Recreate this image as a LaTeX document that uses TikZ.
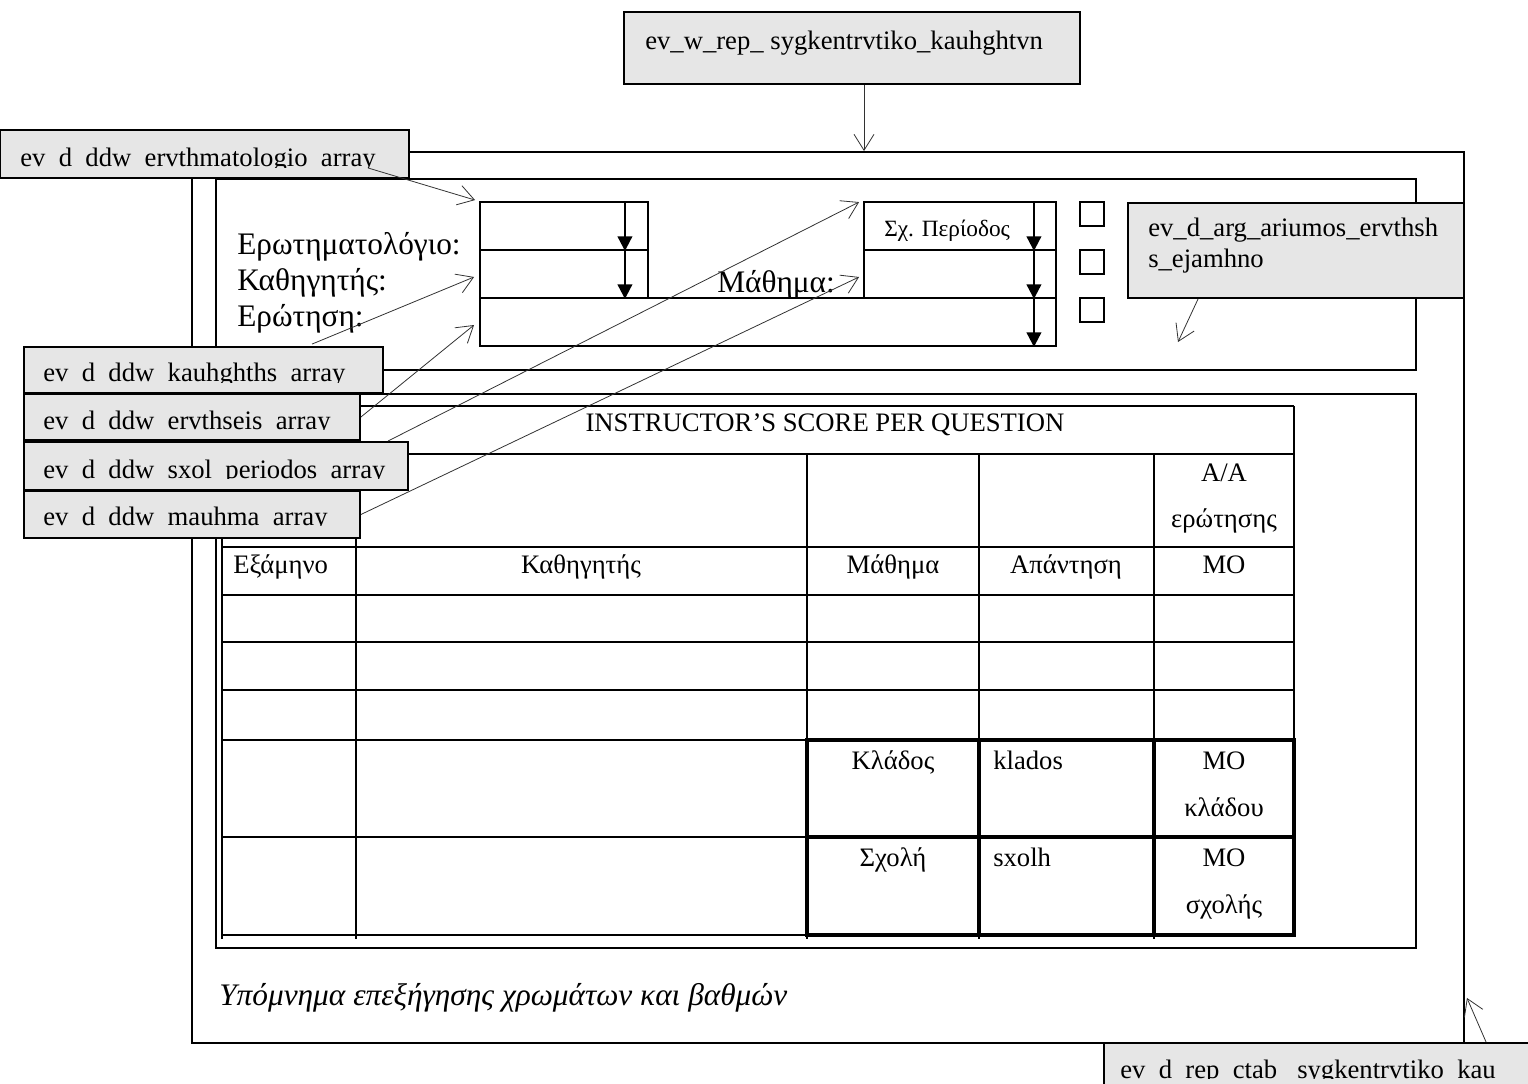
\documentclass[tikz,border=0pt]{standalone}
\usepackage{fontspec}
\setmainfont{Liberation Serif}
\usetikzlibrary{arrows.meta,calc,fit}
\definecolor{boxgray}{RGB}{230,230,230}
\definecolor{conngray}{RGB}{50,50,50}
\tikzset{
  panelbox/.style={draw=black, line width=1.4pt, inner sep=0pt},
  graybox/.style={draw=black, fill=boxgray, line width=1.4pt, inner sep=0pt},
  fieldbox/.style={draw=black, line width=1.4pt, inner sep=0pt},
  chkbox/.style={draw=black, line width=1.2pt, inner sep=0pt},
  lbl/.style={font=\fontsize{20}{24}\selectfont, inner sep=0pt},
  formlbl/.style={font=\fontsize{23.5}{28}\selectfont, inner sep=0pt, anchor=base west},
  smalllbl/.style={font=\fontsize{17.5}{21}\selectfont, inner sep=0pt, anchor=base west},
  conn/.style={draw=conngray, line width=0.6pt, -{Straight Barb[length=12pt,width=15pt]}},
  ddarrow/.style={line width=1.6pt, -{Triangle[length=11pt,width=11pt]}},
  gridline/.style={line width=1.4pt},
  thickgrid/.style={line width=3.4pt},
}
\begin{document}
\begin{tikzpicture}[x=0.75pt,y=-0.75pt]
\useasboundingbox (0,0) rectangle (1528,1084);
\clip (0,0) rectangle (1528,1084);

% ---- top box
\node[graybox, fit={(624,12) (1080,84)}] (topbox) {};
\node[lbl, anchor=base west] (ttop) at (645,50) {ev\_w\_rep\_ sygkentrvtiko\_kauhghtvn};

% ---- frames
\node[panelbox, fit={(192,152) (1464,1043)}] (frame) {};
\node[panelbox, fit={(216,179) (1416,370)}] (formpanel) {};
\node[panelbox, fit={(216,394) (1416,948)}] (tabpanel) {};

% ---- form
\node[formlbl] (lQ) at (237,255) {Ερωτηματολόγιο:};
\node[formlbl] (lK) at (237,291) {Καθηγητής:};
\node[formlbl] (lE) at (237,327) {Ερώτηση:};
\node[formlbl] (lM) at (717,293) {Μάθημα:};

\node[fieldbox, fit={(480,202) (648,250)}] (fQ) {};
\node[fieldbox, fit={(480,250) (648,298)}] (fK) {};
\node[fieldbox, fit={(480,298) (1056,346)}] (fE) {};
\node[fieldbox, fit={(864,202) (1056,250)}] (fS) {};
\node[fieldbox, fit={(864,250) (1056,298)}] (fM) {};
\node[smalllbl] (tS) at (884,237) {Σχ. Περίοδος};

\draw[ddarrow] ($(fQ.north east)+(-24,0)$) -- ($(fQ.south east)+(-24,0)$);
\draw[ddarrow] ($(fK.north east)+(-24,0)$) -- ($(fK.south east)+(-24,0)$);
\draw[ddarrow] ($(fS.north east)+(-23,0)$) -- ($(fS.south east)+(-23,0)$);
\draw[ddarrow] ($(fM.north east)+(-23,0)$) -- ($(fM.south east)+(-23,0)$);
\draw[ddarrow] ($(fE.north east)+(-23,0)$) -- ($(fE.south east)+(-23,0)$);

\node[chkbox, fit={(1080,202) (1104,226)}] (c1) {};
\node[chkbox, fit={(1080,250) (1104,274)}] (c2) {};
\node[chkbox, fit={(1080,298) (1104,322)}] (c3) {};

% ---- table grid
\foreach \yy in {406,454,547,595,642,690,740,837,935}
  \draw[gridline] (222,\yy) -- (1294,\yy);
\draw[gridline] (222,406) -- (222,939);
\draw[gridline] (1294,406) -- (1294,935);
\foreach \xx in {356,807,979,1154}
  \draw[gridline] (\xx,454) -- (\xx,939);
\draw[thickgrid] (807,740) rectangle (1294,935);
\draw[thickgrid] (979,740) -- (979,935);
\draw[thickgrid] (1154,740) -- (1154,935);
\draw[thickgrid] (807,837) -- (1294,837);

% ---- table texts
\node[lbl, anchor=base] (hdr) at (825,431) {INSTRUCTOR’S SCORE PER QUESTION};
\node[lbl, anchor=base] (aa) at (1224,481) {A/A};
\node[lbl, anchor=base] (aa2) at (1224,527) {ερώτησης};
\node[lbl, anchor=base west] (hSem) at (233,573) {Εξάμηνο};
\node[lbl, anchor=base] (hKat) at (581,573) {Καθηγητής};
\node[lbl, anchor=base] (hMat) at (893,573) {Μάθημα};
\node[lbl, anchor=base] (hApa) at (1066,573) {Απάντηση};
\node[lbl, anchor=base] (hMO) at (1224,573) {MO};
\node[lbl, anchor=base] (kl1) at (893,769) {Κλάδος};
\node[lbl, anchor=base west] (kl2) at (993,769) {klados};
\node[lbl, anchor=base] (kl3) at (1224,769) {MO};
\node[lbl, anchor=base] (kl4) at (1224,816) {κλάδου};
\node[lbl, anchor=base] (sx1) at (893,866) {Σχολή};
\node[lbl, anchor=base west] (sx2) at (993,866) {sxolh};
\node[lbl, anchor=base] (sx3) at (1224,866) {MO};
\node[lbl, anchor=base] (sx4) at (1224,913) {σχολής};

\node[inner sep=0pt, anchor=base west, font=\fontsize{23.5}{28}\selectfont\itshape] (legend) at (219,1005) {Υπόμνημα επεξήγησης χρωμάτων και βαθμών};

% ---- gray label boxes
\node[graybox, fit={(0,130) (409,178)}] (boxA) {};
\begin{scope}
  \clip (0,130) rectangle (409,167.3);
  \node[lbl, anchor=base west] (tA) at (20,167) {ev\_d\_ddw\_ervthmatologio\_array};
\end{scope}

\node[graybox, fit={(24,347) (383,393)}] (boxB) {};
\begin{scope}
  \clip (24,347) rectangle (383,382.3);
  \node[lbl, anchor=base west] (tB) at (43,382) {ev\_d\_ddw\_kauhghths\_array};
\end{scope}

\node[graybox, fit={(24,394) (360,440)}] (boxC) {};
\begin{scope}
  \clip (24,394) rectangle (360,429.3);
  \node[lbl, anchor=base west] (tC) at (43,429) {ev\_d\_ddw\_ervthseis\_array};
\end{scope}

\node[graybox, fit={(24,442) (408,490)}] (boxD) {};
\begin{scope}
  \clip (24,442) rectangle (408,478.3);
  \node[lbl, anchor=base west] (tD) at (43,478) {ev\_d\_ddw\_sxol\_periodos\_array};
\end{scope}

\node[graybox, fit={(24,491) (360,538)}] (boxE) {};
\begin{scope}
  \clip (24,491) rectangle (360,525.3);
  \node[lbl, anchor=base west] (tE) at (43,525) {ev\_d\_ddw\_mauhma\_array};
\end{scope}

\node[graybox, fit={(1128,203) (1464,298)}] (boxR) {};
\node[lbl, anchor=base west] (tR1) at (1148,237) {ev\_d\_arg\_ariumos\_ervthsh};
\node[lbl, anchor=base west] (tR2) at (1148,268) {s\_ejamhno};

\node[graybox, fit={(1104,1043) (1545,1110)}] (boxBR) {};
\begin{scope}
  \clip (1104,1043) rectangle (1528,1078.3);
  \node[lbl, anchor=base west] (tBR) at (1120,1078) {ev\_d\_rep\_ctab\_ sygkentrvtiko\_kau};
\end{scope}

% ---- connectors
\coordinate (rEnd) at (1178,342);
\draw[conn] ($(topbox.south)+(12,0)$) -- ($(frame.north)+(36,0)$);
\draw[conn] ($(boxA.south east)+(-42,-11)$) -- ($(fQ.north west)+(-4,-1)$);
\draw[conn] ($(boxB.north west)+(289,-2)$) -- ($(fK.west)+(-5,3)$);
\draw[conn] (boxC.east) -- ($(fE.west)+(-5,3)$);
\draw[conn] ($(boxD.north east)+(-21,0)$) -- ($(fS.north west)+(-4,1)$);
\draw[conn] (boxE.east) -- ($(fM.west)+(-4,3)$);
\draw[conn] ($(boxR.south west)+(71,0)$) -- (rEnd);
\draw[conn] ($(boxBR.north west)+(383,0)$) -- ($(frame.south east)+(2,-46)$);
\end{tikzpicture}
\end{document}
